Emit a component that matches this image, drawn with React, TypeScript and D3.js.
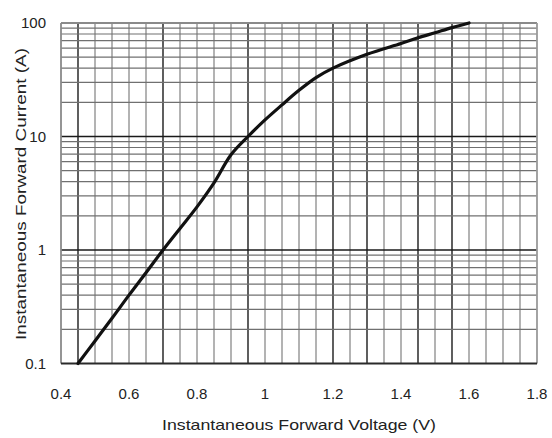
import React from "react";
import * as d3 from "d3";

const voltage = [0.45, 0.5, 0.55, 0.6, 0.65, 0.7, 0.75, 0.8, 0.85, 0.9, 0.95, 1.0, 1.05, 1.1, 1.15, 1.2, 1.3, 1.4, 1.45, 1.5, 1.55, 1.6];
const current = [0.1, 0.158, 0.25, 0.4, 0.63, 1.0, 1.55, 2.4, 3.9, 6.9, 10, 14, 19, 25.5, 33, 40, 53, 66, 74, 82, 91, 100];

const xTicks = [0.4, 0.6, 0.8, 1.0, 1.2, 1.4, 1.6, 1.8];
const xTickLabels = ["0.4", "0.6", "0.8", "1", "1.2", "1.4", "1.6", "1.8"];
const yTicks = [0.1, 1, 10, 100];
const yTickLabels = ["0.1", "1", "10", "100"];
const xGridVals = d3.range(0, 29).map((i) => +(0.4 + i * 0.05).toFixed(2));
const darkXGrid = [0.45, 0.7, 0.95, 1.2, 1.3, 1.45, 1.55];
const yMinor = [2, 3, 4, 5, 6, 7, 8, 9];
const yDecades = [0.1, 1, 10];

const xTitle = "Instantaneous Forward Voltage (V)";
const yTitle = "Instantaneous Forward Current (A)";

export default function App() {
  const W = 552, H = 438;
  const left = 61, right = 537, top = 23, bottom = 363.5;
  const x = d3.scaleLinear().domain([0.4, 1.8]).range([left, right]);
  const y = d3.scaleLog().domain([0.1, 100]).range([bottom, top]);

  const hLines: { v: number; dark: boolean }[] = [];
  yDecades.forEach((d) => {
    yMinor.forEach((m) => hLines.push({ v: d * m, dark: false }));
  });
  hLines.push({ v: 1, dark: true });
  hLines.push({ v: 10, dark: true });

  const line = d3
    .line<number>()
    .x((_, i) => x(voltage[i]))
    .y((d) => y(d))
    .curve(d3.curveCatmullRom.alpha(0.5));

  const font = "'Liberation Sans', Arial, sans-serif";

  return (
    <svg width={W} height={H} style={{ position: "absolute", left: 0, top: 0, background: "#fff" }}>
      <rect x={0} y={0} width={W} height={H} fill="#fff" />
      {xGridVals.filter((v) => v > 0.41 && v < 1.79).map((v, i) => {
        const dark = darkXGrid.some((d) => Math.abs(d - v) < 1e-6);
        return (
          <line key={"vx" + i} x1={x(v)} x2={x(v)} y1={top} y2={bottom}
            stroke={dark ? "#1a1a1a" : "#808080"} strokeWidth={dark ? 1.4 : 1.2} />
        );
      })}
      {hLines.map((h, i) => (
        <line key={"hy" + i} x1={left} x2={right} y1={y(h.v)} y2={y(h.v)}
          stroke={h.dark ? "#1a1a1a" : "#707070"} strokeWidth={h.dark ? 1.5 : 1.2} />
      ))}
      <line x1={left} x2={right} y1={top} y2={top} stroke="#8a8a8a" strokeWidth={1.8} />
      <line x1={left} x2={left} y1={top} y2={bottom} stroke="#8a8a8a" strokeWidth={1.8} />
      <line x1={right} x2={right} y1={top} y2={bottom} stroke="#9a9a9a" strokeWidth={1.8} />
      <line x1={left} x2={right} y1={bottom} y2={bottom} stroke="#2a2a2a" strokeWidth={1.8} />
      <path d={line(current) || ""} fill="none" stroke="#111" strokeWidth={3.2} strokeLinecap="round" />
      {yTicks.map((t, i) => (
        <text key={"yt" + i} x={46} y={y(t)} dy="0.35em" textAnchor="end" fontFamily={font} fontSize={15} fill="#222">
          {yTickLabels[i]}
        </text>
      ))}
      {xTicks.map((t, i) => (
        <text key={"xt" + i} x={x(t)} y={399} textAnchor="middle" fontFamily={font} fontSize={15} fill="#222">
          {xTickLabels[i]}
        </text>
      ))}
      <text x={299} y={430} textAnchor="middle" fontFamily={font} fontSize={15} fill="#222"
        textLength={274} lengthAdjust="spacingAndGlyphs">{xTitle}</text>
      <text transform={`translate(26,194) rotate(-90)`} textAnchor="middle" fontFamily={font} fontSize={15} fill="#222"
        textLength={292} lengthAdjust="spacingAndGlyphs">{yTitle}</text>
    </svg>
  );
}
